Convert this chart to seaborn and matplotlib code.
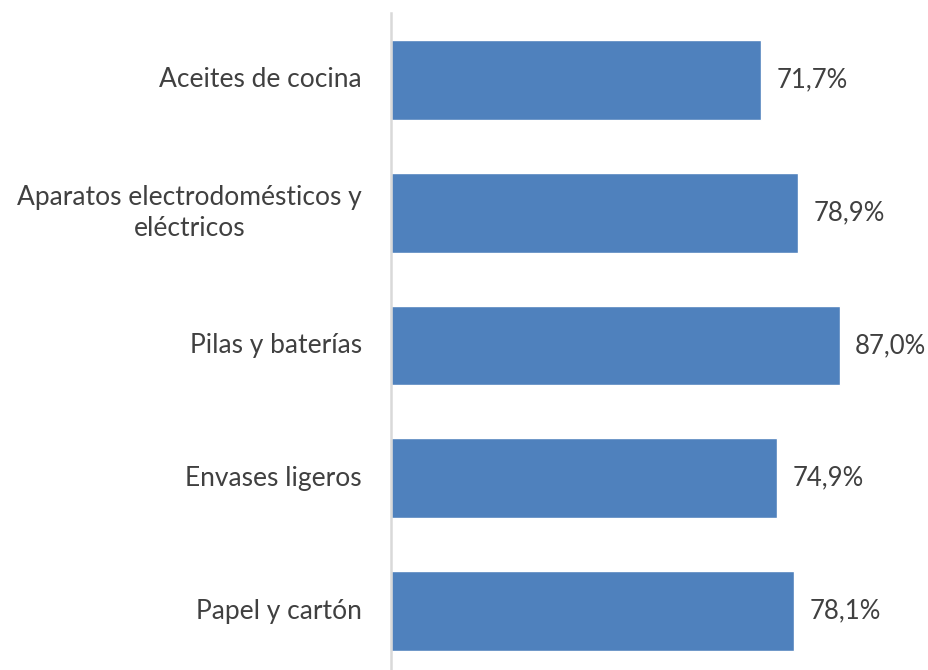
import matplotlib
matplotlib.use("Agg")
import matplotlib.pyplot as plt
import pandas as pd
import seaborn as sns

categories = [
    "Aceites de cocina",
    "Aparatos electrodomésticos y\neléctricos",
    "Pilas y baterías",
    "Envases ligeros",
    "Papel y cartón",
]
values = [71.7, 78.9, 87.0, 74.9, 78.1]

df = pd.DataFrame({"categoria": categories, "valor": values})

sns.set_theme(style="white")
plt.rcParams["font.family"] = ["Lato", "DejaVu Sans"]

text_color = "#404040"
bar_color = "#4F81BD"

fig = plt.figure(figsize=(9.29, 6.70), dpi=100)
ax = fig.add_axes([391 / 929, -7.5 / 670, 516 / 929, 664 / 670])

sns.barplot(data=df, x="valor", y="categoria", orient="h", color=bar_color,
            width=0.6, saturation=1, ax=ax)

ax.set_xlim(0, 100)
ax.set_ylim(4.5, -0.5)
ax.set_xlabel("")
ax.set_ylabel("")
ax.set_xticks([])

for side in ["top", "right", "bottom"]:
    ax.spines[side].set_visible(False)
ax.spines["left"].set_color("#D9D9D9")
ax.spines["left"].set_linewidth(1.8)

# category labels drawn by hand so the wrapped one can be centred
ax.set_yticks(range(len(categories)))
ax.set_yticklabels([])
ax.tick_params(axis="y", length=0)
for i, cat in enumerate(categories):
    ax.text(-29 / 516, i, cat, transform=ax.get_yaxis_transform(),
            ha="right", va="center", multialignment="center",
            linespacing=1.3, fontsize=19, color=text_color)

labels = [f"{v:.1f}%".replace(".", ",") for v in values]
ax.bar_label(ax.containers[0], labels=labels, padding=11, fontsize=18.5,
             color=text_color)

fig.savefig("out.png", dpi=100)
